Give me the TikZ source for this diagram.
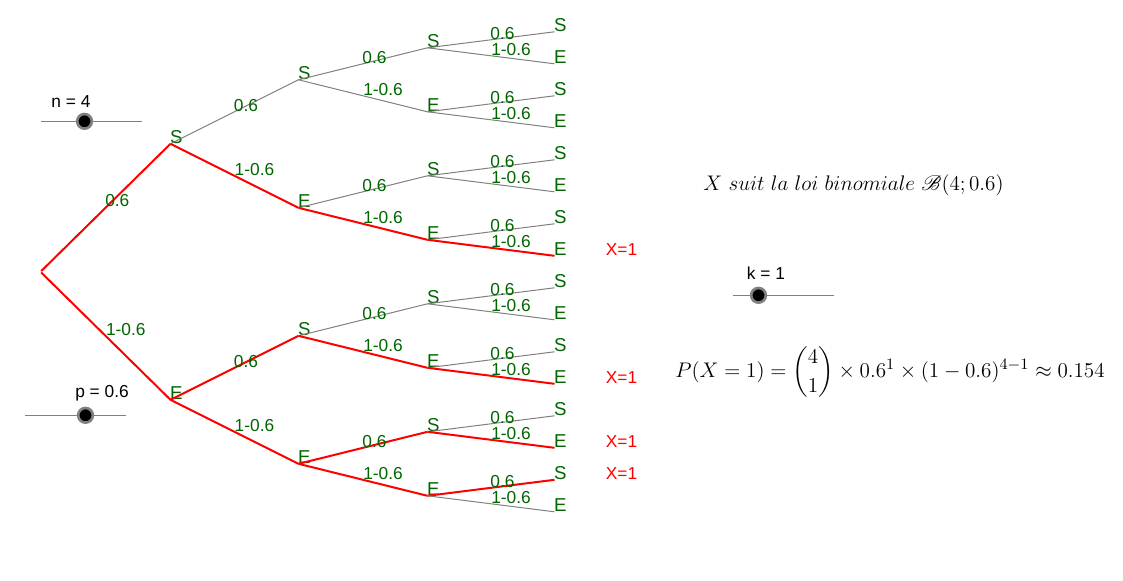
\documentclass[tikz,border=0pt]{standalone}
\usepackage[no-math]{fontspec}
\usepackage{amsmath}
\usepackage{mathrsfs}
\setmainfont{Liberation Sans}
\definecolor{probGreen}{HTML}{006400}
\tikzset{every node/.style={font=\fontsize{13pt}{15pt}\selectfont}}
\tikzset{state label/.style={text=probGreen,inner sep=0pt,xshift=-0.5pt,yshift=4.9pt,font=\fontsize{14pt}{16pt}\selectfont}}
\tikzset{vertex/.style={inner sep=0pt,outer sep=0pt,minimum size=0pt,label={[state label]0:#1}}}
\tikzset{branch/.style={draw=black!50,line width=0.75pt}}
\tikzset{chosen/.style={draw=red,line width=1.5pt}}
\tikzset{upper prob/.style={text=probGreen,inner sep=0pt,xshift=8.6pt,yshift=5pt}}
\tikzset{lower prob/.style={text=probGreen,inner sep=0pt,xshift=15pt,yshift=5pt}}
\tikzset{success/.style={text=red,inner sep=0pt}}
\tikzset{slider/.style={draw=black!50,line width=0.6pt}}
\tikzset{thumb/.style={circle,draw=black!50,fill=black,line width=2pt,minimum size=11pt,inner sep=0pt}}
\tikzset{formula text/.style={scale=1.32,transform shape}}

\begin{document}
\begin{tikzpicture}[x=0.75pt,y=-0.75pt]
\useasboundingbox (-0.5,-0.8) rectangle (1122.5,580.2);
% tree
\node[inner sep=0pt,outer sep=0pt](root)at(40,271){};
\node[vertex=S](s)at(170,143){} edge[chosen] node[upper prob]{0.6}(root);
\node[vertex=E](e)at(170,399){} edge[chosen] node[lower prob]{1-0.6}(root);
\node[vertex=S](ss)at(298,79){} edge[branch] node[upper prob]{0.6}(s);
\node[vertex=E](se)at(298,207){} edge[chosen] node[lower prob]{1-0.6}(s);
\node[vertex=S](es)at(298,335){} edge[chosen] node[upper prob]{0.6}(e);
\node[vertex=E](ee)at(298,463){} edge[chosen] node[lower prob]{1-0.6}(e);
\node[vertex=S](sss)at(427,47){} edge[branch] node[upper prob]{0.6}(ss);
\node[vertex=E](sse)at(427,111){} edge[branch] node[lower prob]{1-0.6}(ss);
\node[vertex=S](ses)at(427,175){} edge[branch] node[upper prob]{0.6}(se);
\node[vertex=E](see)at(427,239){} edge[chosen] node[lower prob]{1-0.6}(se);
\node[vertex=S](ess)at(427,303){} edge[branch] node[upper prob]{0.6}(es);
\node[vertex=E](ese)at(427,367){} edge[chosen] node[lower prob]{1-0.6}(es);
\node[vertex=S](ees)at(427,431){} edge[chosen] node[upper prob]{0.6}(ee);
\node[vertex=E](eee)at(427,495){} edge[chosen] node[lower prob]{1-0.6}(ee);
\node[vertex=S](ssss)at(554,31){} edge[branch] node[upper prob]{0.6}(sss);
\node[vertex=E](ssse)at(554,63){} edge[branch] node[lower prob]{1-0.6}(sss);
\node[vertex=S](sses)at(554,95){} edge[branch] node[upper prob]{0.6}(sse);
\node[vertex=E](ssee)at(554,127){} edge[branch] node[lower prob]{1-0.6}(sse);
\node[vertex=S](sess)at(554,159){} edge[branch] node[upper prob]{0.6}(ses);
\node[vertex=E](sese)at(554,191){} edge[branch] node[lower prob]{1-0.6}(ses);
\node[vertex=S](sees)at(554,223){} edge[branch] node[upper prob]{0.6}(see);
\node[vertex=E](seee)at(554,255){} edge[chosen] node[lower prob]{1-0.6}(see);
\node[vertex=S](esss)at(554,287){} edge[branch] node[upper prob]{0.6}(ess);
\node[vertex=E](esse)at(554,319){} edge[branch] node[lower prob]{1-0.6}(ess);
\node[vertex=S](eses)at(554,351){} edge[branch] node[upper prob]{0.6}(ese);
\node[vertex=E](esee)at(554,383){} edge[chosen] node[lower prob]{1-0.6}(ese);
\node[vertex=S](eess)at(554,415){} edge[branch] node[upper prob]{0.6}(ees);
\node[vertex=E](eese)at(554,447){} edge[chosen] node[lower prob]{1-0.6}(ees);
\node[vertex=S](eees)at(554,479){} edge[chosen] node[upper prob]{0.6}(eee);
\node[vertex=E](eeee)at(554,511){} edge[branch] node[lower prob]{1-0.6}(eee);
% X=1 marks
\node[success](xseee)at(621,249){X=1};
\node[success](xesee)at(621,377){X=1};
\node[success](xeese)at(621,441){X=1};
\node[success](xeees)at(621,473){X=1};
% sliders
\coordinate(nleft)at(40.5,120.5);
\coordinate(nright)at(141.5,120.5);
\draw[slider](nleft)--(nright);
\node[thumb](nthumb)at(84,120.5){};
\node(nlabel)at(70.5,100.5){n = 4};
\coordinate(pleft)at(24.5,414.5);
\coordinate(pright)at(125.5,414.5);
\draw[slider](pleft)--(pright);
\node[thumb](pthumb)at(85,414.5){};
\node(plabel)at(101.5,392.5){p = 0.6};
\coordinate(kleft)at(732.5,294.5);
\coordinate(kright)at(833.5,294.5);
\draw[slider](kleft)--(kright);
\node[thumb](kthumb)at(758,294.5){};
\node(klabel)at(765.5,272.5){k = 1};
% formulas
\node[formula text](law)at(853,184.5){$X\ suit\ la\ loi\ binomiale\ \mathscr{B}(4;0.6)$};
\node[formula text](formula)at(889.5,371.5){$P(X=1)=\dbinom{4}{1}\times 0.6^{1}\times(1-0.6)^{4-1}\approx 0.154$};
\end{tikzpicture}
\end{document}
